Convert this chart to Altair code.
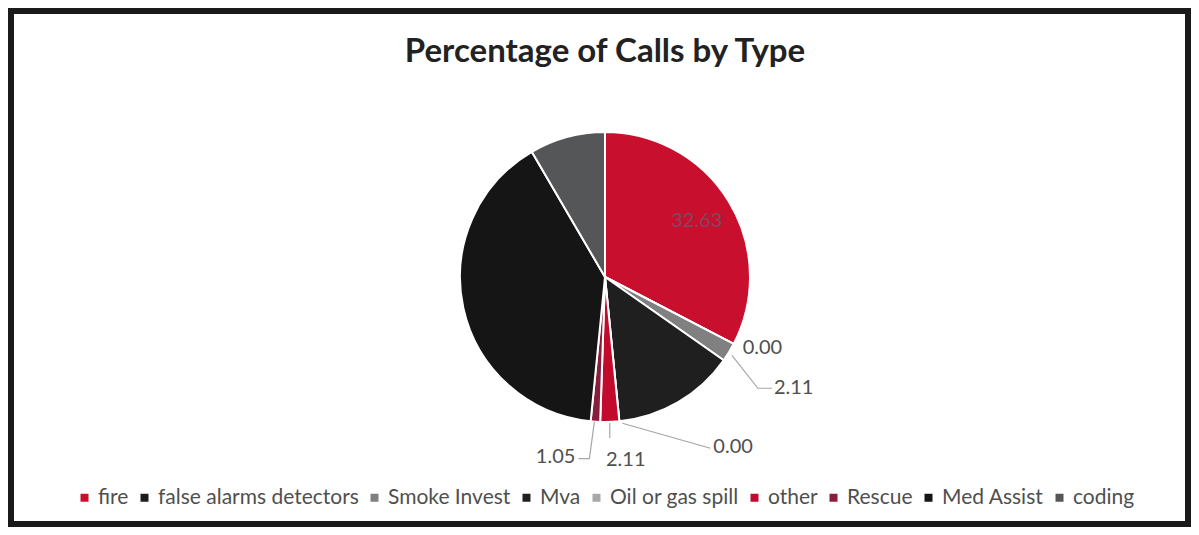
import math
import altair as alt
import pandas as pd

# ---- data ----
categories = ["fire", "false alarms detectors", "Smoke Invest", "Mva",
              "Oil or gas spill", "other", "Rescue", "Med Assist", "coding"]
percentages = [32.63, 0.00, 2.11, 13.68, 0.00, 2.11, 1.05, 40.00, 8.42]
colors = ["#c8102e", "#1c1c1c", "#808080", "#1f1f1f", "#a8a8a8",
          "#c20a2c", "#8a1d3c", "#151515", "#545658"]
labelled = ["fire", "false alarms detectors", "Smoke Invest", "Oil or gas spill",
            "other", "Rescue"]

# ---- layout (style) ----
W, H, PAD = 1177, 513, 3
CX, CY, R = 594, 266, 145
FONT = "Lato"
TXT = "#4f4f4f"

# label placement: pixel offsets from the slice's rim point (dx right, dy down)
label_layout = {
    "false alarms detectors": dict(path=[], text=(9, 4), align="left"),
    "Smoke Invest": dict(path=[(3, 3), (29, 36), (43, 36)], text=(45, 36), align="left"),
    "Oil or gas spill": dict(path=[(3, 2), (91, 27)], text=(94, 26), align="left"),
    "other": dict(path=[(0, 1), (0, 16)], text=(16, 38), align="center"),
    "Rescue": dict(path=[(-1, 0), (-6, 37), (-17, 37)], text=(-20, 35), align="right"),
}

df = pd.DataFrame({"category": categories, "pct": percentages,
                   "order": list(range(len(categories)))})

# mid angles computed from the values
cum = 0.0
mids = []
for v in percentages:
    mids.append((cum + v / 2) / 100 * 2 * math.pi)
    cum += v
mid_of = dict(zip(categories, mids))
pct_of = dict(zip(categories, percentages))

line_rows, text_rows = [], []
for cat in labelled:
    a = mid_of[cat]
    if cat == "fire":
        text_rows.append(dict(category=cat, u=0.74 * math.sin(a), v=0.74 * math.cos(a),
                              label=f"{pct_of[cat]:.2f}", align="center"))
        continue
    rx, ry = math.sin(a), math.cos(a)
    lay = label_layout[cat]
    for i, (dx, dy) in enumerate(lay["path"]):
        line_rows.append(dict(category=cat, i=i, u=rx + dx / R, v=ry - dy / R))
    tdx, tdy = lay["text"]
    text_rows.append(dict(category=cat, u=rx + tdx / R, v=ry - tdy / R,
                          label=f"{pct_of[cat]:.2f}", align=lay["align"]))

lines_df = pd.DataFrame(line_rows)
texts_df = pd.DataFrame(text_rows)

xs = alt.Scale(domain=[-1, 1], range=[CX - R, CX + R], zero=False, nice=False)
ys = alt.Scale(domain=[-1, 1], range=[CY + R, CY - R], zero=False, nice=False)

pie = alt.Chart(df).mark_arc(outerRadius=R, stroke="white", strokeWidth=2).encode(
    theta=alt.Theta("pct:Q", stack=True),
    order=alt.Order("order:Q"),
    color=alt.Color("category:N",
                    scale=alt.Scale(domain=categories, range=colors),
                    sort=categories,
                    legend=alt.Legend(title=None, orient="none", direction="horizontal",
                                      legendX=63, legendY=476, symbolType="square",
                                      symbolSize=64, symbolStrokeWidth=0,
                                      labelFont=FONT, labelFontSize=21, labelLimit=0,
                                      labelColor=TXT, columnPadding=5,
                                      labelOffset=3, columns=9)),
    x=alt.value(CX), y=alt.value(CY),
)

leaders = alt.Chart(lines_df).mark_line(color="#a6a6a6", strokeWidth=1.2).encode(
    x=alt.X("u:Q", scale=xs, axis=None),
    y=alt.Y("v:Q", scale=ys, axis=None),
    detail="category:N",
    order="i:Q",
)

fire_txt = alt.Chart(texts_df[texts_df["category"] == "fire"]).mark_text(
    align="center", baseline="middle", font=FONT, fontSize=20, color="#75506a",
    opacity=0.85).encode(
    x=alt.X("u:Q", scale=xs, axis=None),
    y=alt.Y("v:Q", scale=ys, axis=None),
    text="label:N",
)
outer = texts_df[texts_df["category"] != "fire"]
texts = []
for al in ["left", "center", "right"]:
    sub = outer[outer["align"] == al]
    if len(sub):
        texts.append(alt.Chart(sub).mark_text(align=al, baseline="middle", font=FONT,
                                              fontSize=20, color=TXT).encode(
            x=alt.X("u:Q", scale=xs, axis=None),
            y=alt.Y("v:Q", scale=ys, axis=None),
            text="label:N",
        ))

title = alt.Chart(pd.DataFrame({"t": ["Percentage of Calls by Type"]})).mark_text(
    font=FONT, fontSize=33, fontWeight="bold", color="#222222",
    align="center", baseline="middle").encode(
    text="t:N", x=alt.value(CX), y=alt.value(41))

chart = alt.layer(pie, leaders, fire_txt, *texts, title).resolve_scale(
    x="shared", y="shared").properties(
    width=W, height=H, padding=PAD, autosize=alt.AutoSizeParams(type="none"),
).configure(background="white").configure_view(stroke="#1a1a1a", strokeWidth=6)

chart.save("out.html", embed_options={"renderer": "svg", "actions": False})
